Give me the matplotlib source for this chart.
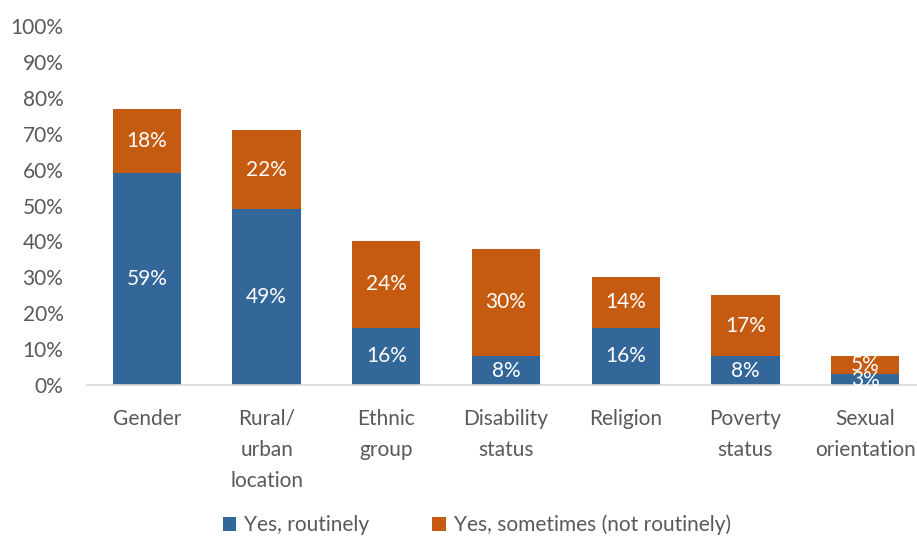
import matplotlib
matplotlib.use("Agg")
import matplotlib.pyplot as plt
from matplotlib.ticker import PercentFormatter

plt.rcParams['font.family'] = ['Lato', 'DejaVu Sans']

categories = ["Gender", "Rural/\nurban\nlocation", "Ethnic\ngroup", "Disability\nstatus",
              "Religion", "Poverty\nstatus", "Sexual\norientation"]
routinely = [59, 49, 16, 8, 16, 8, 3]
sometimes = [18, 22, 24, 30, 14, 17, 5]
series_names = ["Yes, routinely", "Yes, sometimes (not routinely)"]

blue = "#336699"
orange = "#C55A11"
grey = "#595959"
fs = 15

fig = plt.figure(figsize=(9.17, 5.39), dpi=100)
ax = fig.add_axes([87 / 917, 154 / 539, 838 / 917, 359 / 539])

x = range(len(categories))
b1 = ax.bar(x, routinely, width=0.57, color=blue, label=series_names[0], zorder=2)
b2 = ax.bar(x, sometimes, width=0.57, bottom=routinely, color=orange,
            label=series_names[1], zorder=2)

for i in x:
    ax.text(i, routinely[i] / 2, f"{routinely[i]}%", ha='center', va='center',
            color='white', fontsize=fs, zorder=3)
    ax.text(i, routinely[i] + sometimes[i] / 2, f"{sometimes[i]}%", ha='center',
            va='center', color='white', fontsize=fs, zorder=3)

ax.set_ylim(0, 100)
ax.set_xlim(-0.5, len(categories) - 0.5)
ax.set_yticks(range(0, 101, 10))
ax.yaxis.set_major_formatter(PercentFormatter(decimals=0))
ax.set_xticks(list(x))
ax.set_xticklabels(categories, linespacing=1.7, va='top')

for s in ['top', 'right', 'left']:
    ax.spines[s].set_visible(False)
ax.spines['bottom'].set_color('#d9d9d9')
ax.spines['bottom'].set_linewidth(1.2)
ax.tick_params(axis='both', length=0, colors=grey, labelsize=fs)
ax.tick_params(axis='x', pad=17)
ax.tick_params(axis='y', pad=17)

fig.legend(handles=[b1, b2], loc='lower center', bbox_to_anchor=(0.52, -0.028),
           ncol=2, frameon=False, fontsize=fs, handlelength=0.65,
           handleheight=0.65, columnspacing=3.0, handletextpad=0.4,
           labelcolor=grey)

fig.savefig("out.png", dpi=100)
